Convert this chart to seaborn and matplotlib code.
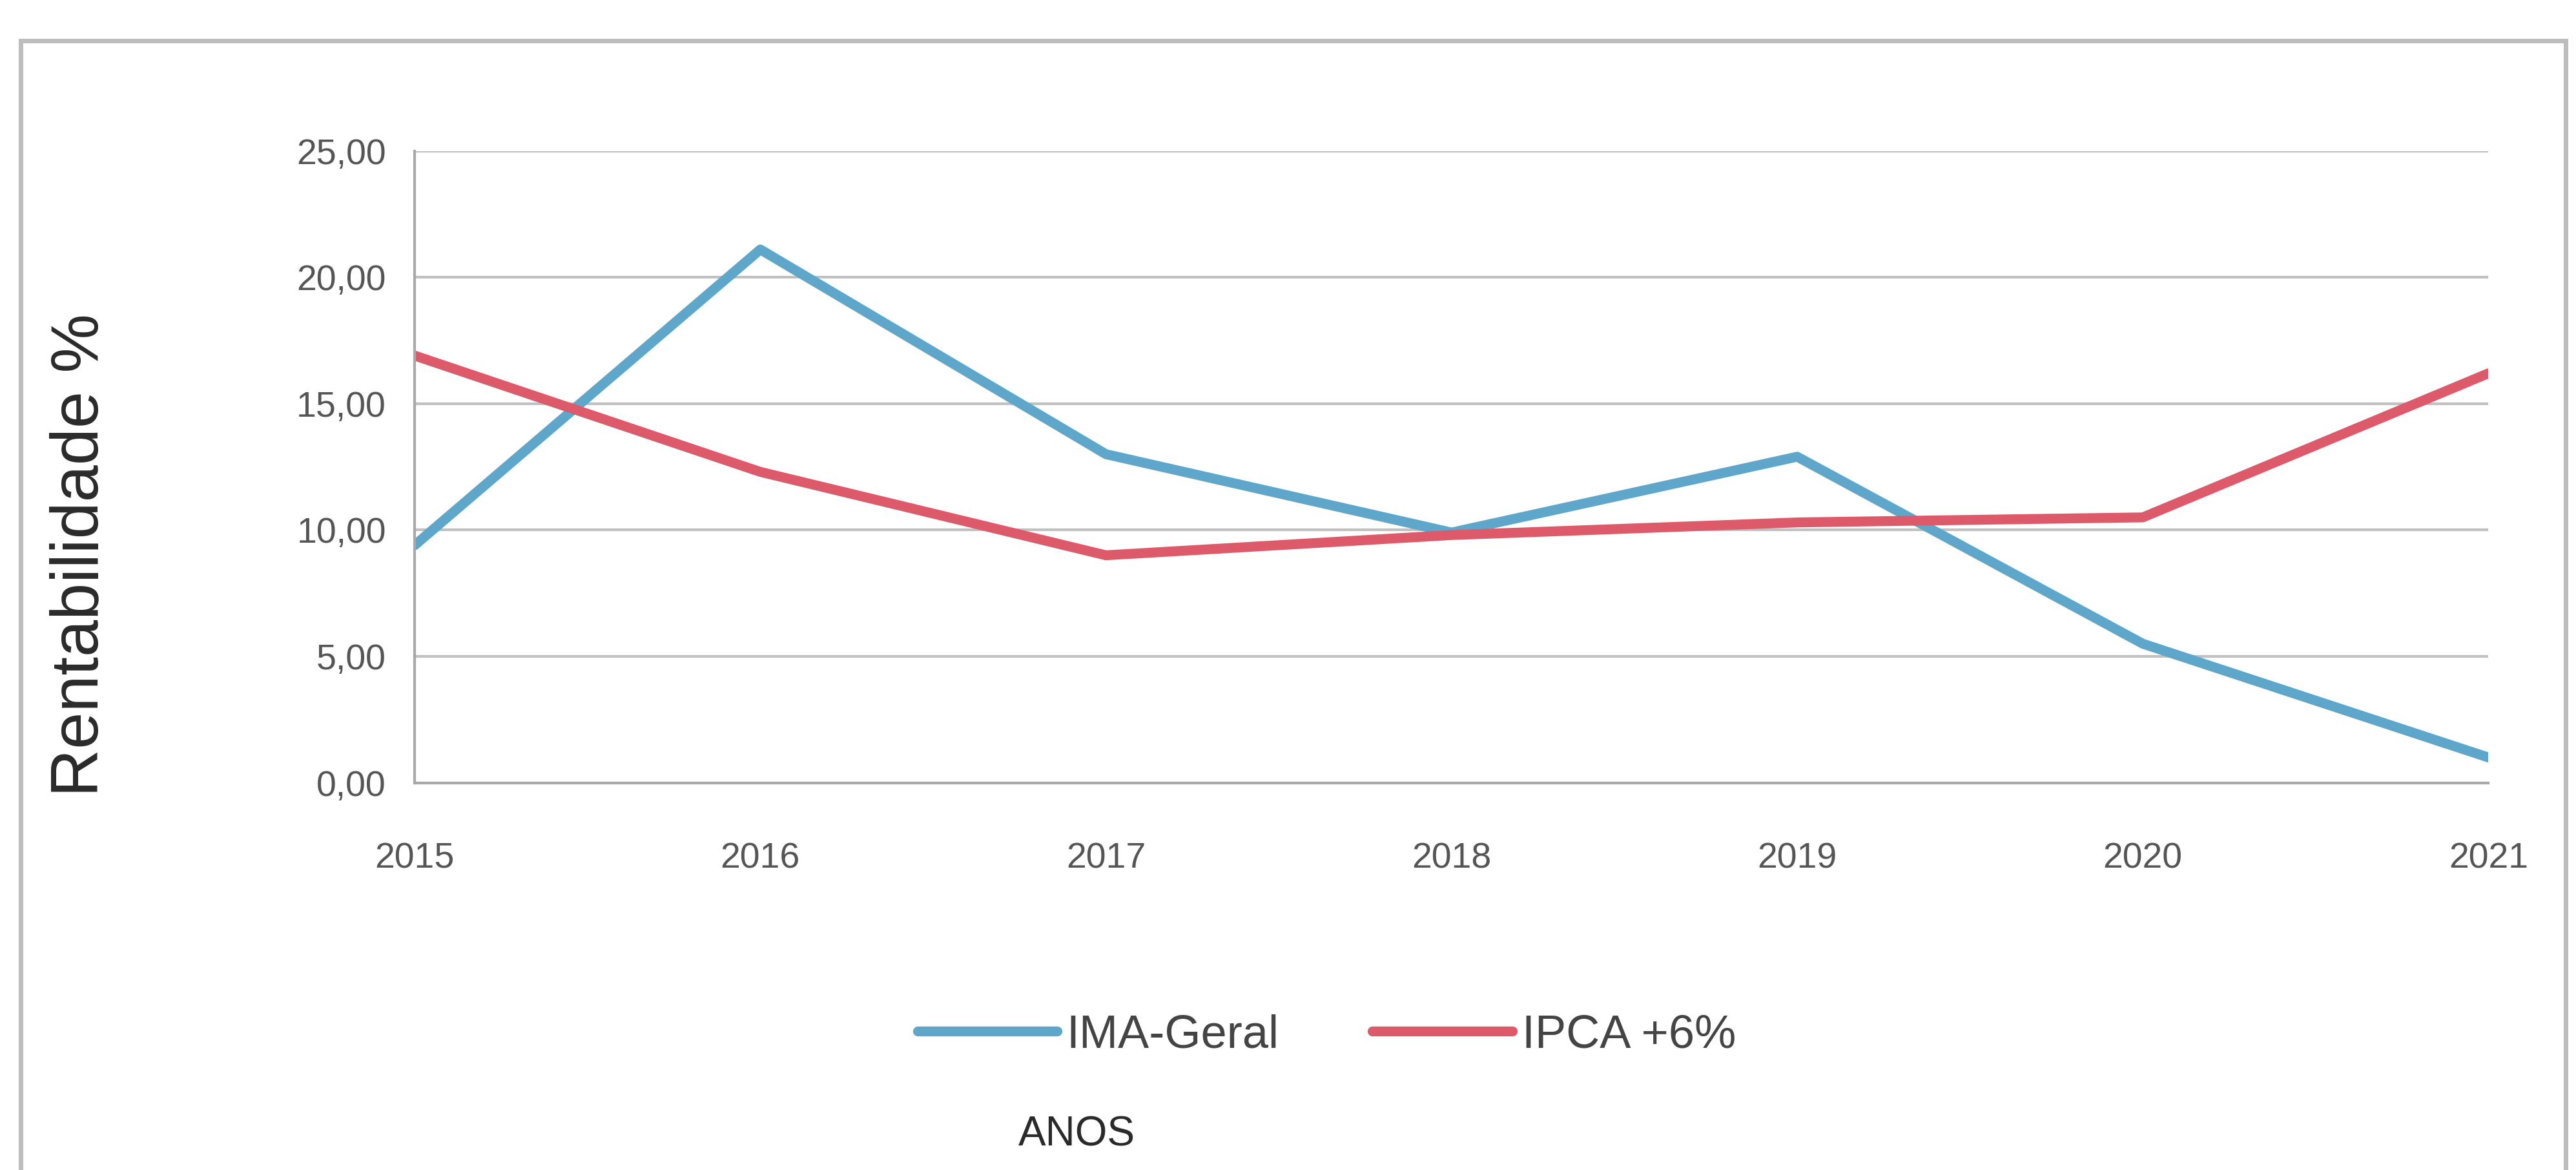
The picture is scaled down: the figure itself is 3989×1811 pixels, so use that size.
import pandas as pd
import matplotlib.pyplot as plt
import matplotlib.patches as patches
from matplotlib.ticker import FuncFormatter
import seaborn as sns

# Data
anos = [2015, 2016, 2017, 2018, 2019, 2020, 2021]
ima_geral = [9.4, 21.1, 13.0, 9.9, 12.9, 5.5, 1.0]
ipca_6 = [16.9, 12.3, 9.0, 9.8, 10.3, 10.5, 16.2]
series_names = ['IMA-Geral', 'IPCA +6%']
series_colors = ['#5fa6cb', '#dd5a6a']

data = pd.DataFrame({
    'ano': anos * 2,
    'valor': ima_geral + ipca_6,
    'serie': [series_names[0]] * len(anos) + [series_names[1]] * len(anos),
})

sns.set_style('white')
plt.rcParams['font.family'] = ['Liberation Sans', 'DejaVu Sans']

fig = plt.figure(figsize=(39.89, 18.11), dpi=100)
ax = fig.add_axes([0.161, 0.331, 0.805, 0.54])

sns.lineplot(data=data, x='ano', y='valor', hue='serie',
             palette=dict(zip(series_names, series_colors)),
             linewidth=11, ax=ax, legend=False)

ax.set_xlim(2015, 2021)
ax.set_ylim(0, 25)
ax.set_xticks(anos)
ax.set_yticks([0, 5, 10, 15, 20, 25])
ax.yaxis.set_major_formatter(FuncFormatter(lambda v, p: f'{v:.2f}'.replace('.', ',')))
ax.grid(axis='y', color='#c0c0c0', linewidth=3)
ax.set_axisbelow(True)

for s in ['top', 'right']:
    ax.spines[s].set_visible(False)
for s in ['left', 'bottom']:
    ax.spines[s].set_color('#a8a8a8')
    ax.spines[s].set_linewidth(3)

ax.tick_params(axis='both', labelsize=40, colors='#a8a8a8', labelcolor='#555555',
               length=14, width=3, direction='out', pad=18)
ax.tick_params(axis='x', pad=52)

ax.set_xlabel('')
ax.set_ylabel('Rentabilidade %', fontsize=74, color='#2a2a2a')
ax.yaxis.set_label_coords(-0.146, 0.36)

# Legend below the plot
handles = [plt.Line2D([0], [0], color=c, linewidth=11) for c in series_colors]
fig.legend(handles, series_names, loc='center', bbox_to_anchor=(0.515, 0.115),
           ncol=2, frameon=False, fontsize=52, handlelength=3.0,
           columnspacing=2.0, handletextpad=0.2, labelcolor='#444444')

fig.text(0.418, 0.03, 'ANOS', ha='center', va='center', fontsize=46, color='#2a2a2a')

# Outer chart frame
fig.patches.append(patches.Rectangle((0.008, -0.01), 0.988, 0.975, transform=fig.transFigure,
                                     fill=False, edgecolor='#bdbdbd', linewidth=5))

fig.savefig('out.png', dpi=100)
